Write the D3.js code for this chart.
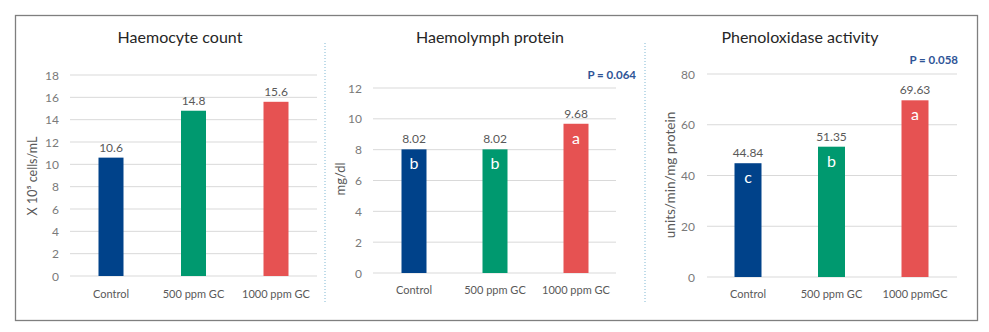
<!DOCTYPE html>
<html><head><meta charset="utf-8">
<script src="https://cdn.jsdelivr.net/npm/d3@7"></script>
<style>body{margin:0;background:#fff;} svg{display:block;font-family:Lato,"Open Sans",sans-serif;}</style>
</head><body>
<svg id="c" width="989" height="332"></svg>
<script>
const categories = ["Control","500 ppm GC","1000 ppm GC"];
const categoriesPO = ["Control","500 ppm GC","1000 ppmGC"];
const haemocyteValues = [10.6, 14.8, 15.6];
const proteinValues = [8.02, 8.02, 9.68];
const poValues = [44.84, 51.35, 69.63];
const proteinLetters = ["b","b","a"];
const poLetters = ["c","b","a"];
const haemocyteTicks = [0,2,4,6,8,10,12,14,16,18];
const proteinTicks = [0,2,4,6,8,10,12];
const poTicks = [0,20,40,60,80];
const titles = ["Haemocyte count","Haemolymph protein","Phenoloxidase activity"];
const pLabels = [null, "P = 0.064", "P = 0.058"];
const colors = ["#00428a","#00996f","#e65252"];

const svg = d3.select("#c");
svg.append("rect").attr("x",15.5).attr("y",15.5).attr("width",962).attr("height",305)
  .attr("fill","#fff").attr("stroke","#7f7f7f").attr("stroke-width",1.3);

const panels = [
  {cats:categories, vals:haemocyteValues, letters:null, ticks:haemocyteTicks, max:18,
   x0:70, x1:317, yTop:75, yBot:276, title:titles[0], tx:180, yl:"X 10⁵ cells/mL", ylx:37, yly:176, ylfs:12.5,
   fmt:d=>d, labelY:294, p:null, tickX:59, bw:25, centers:[111,193,276]},
  {cats:categories, vals:proteinValues, letters:proteinLetters, ticks:proteinTicks, max:12,
   x0:373, x1:616, yTop:88, yBot:273, title:titles[1], tx:490, yl:"mg/dl", ylx:345, yly:179, ylfs:13,
   fmt:d=>d.toFixed(2), labelY:290, p:pLabels[1], px:636, py:79, tickX:362, bw:25, centers:[414,495,576]},
  {cats:categoriesPO, vals:poValues, letters:poLetters, ticks:poTicks, max:80,
   x0:707, x1:957, yTop:74, yBot:277, title:titles[2], tx:800, yl:"units/min/mg protein", ylx:675, yly:175, ylfs:13.5,
   fmt:d=>d.toFixed(2), labelY:294, p:pLabels[2], px:958, py:64, tickX:695, bw:27, centers:[748,832,915]}
];

panels.forEach(P => {
  const g = svg.append("g");
  const y = d3.scaleLinear().domain([0,P.max]).range([P.yBot,P.yTop]);
  const step = (P.centers[2]-P.centers[0])/2;
  const x = d3.scaleBand().domain(P.cats).range([P.centers[0]-step/2, P.centers[2]+step/2]).paddingInner(0).paddingOuter(0);
  g.selectAll("line.grid").data(P.ticks).join("line")
    .attr("x1",P.x0).attr("x2",P.x1).attr("y1",d=>y(d)).attr("y2",d=>y(d))
    .attr("stroke","#d9d9d9").attr("stroke-width",1);
  g.selectAll("text.tick").data(P.ticks).join("text")
    .attr("x",P.tickX).attr("y",d=>y(d)+4.5).attr("text-anchor","end")
    .attr("font-size",12).attr("fill","#7a7a7a").text(d=>d);
  g.selectAll("rect.bar").data(P.vals).join("rect")
    .attr("x",(d,i)=>x(P.cats[i])+x.bandwidth()/2-P.bw/2).attr("width",P.bw)
    .attr("y",d=>y(d)).attr("height",d=>P.yBot-y(d)).attr("fill",(d,i)=>colors[i]);
  g.selectAll("text.val").data(P.vals).join("text")
    .attr("x",(d,i)=>x(P.cats[i])+x.bandwidth()/2).attr("y",d=>y(d)-6)
    .attr("text-anchor","middle").attr("font-size",12).attr("fill","#595959").text(d=>P.fmt(d));
  if (P.letters) {
    g.selectAll("text.let").data(P.vals).join("text")
      .attr("x",(d,i)=>x(P.cats[i])+x.bandwidth()/2).attr("y",d=>y(d)+20)
      .attr("text-anchor","middle").attr("font-size",16).attr("fill","#fff").text((d,i)=>P.letters[i]);
  }
  g.selectAll("text.cat").data(P.cats).join("text")
    .attr("x",d=>x(d)+x.bandwidth()/2).attr("y",P.labelY+4)
    .attr("text-anchor","middle").attr("font-size",11).attr("fill","#595959").text(d=>d);
  g.append("text").attr("x",P.tx).attr("y",43).attr("text-anchor","middle")
    .attr("font-size",16).attr("fill","#262626").text(P.title);
  g.append("text").attr("transform",`translate(${P.ylx},${P.yly}) rotate(-90)`)
    .attr("text-anchor","middle").attr("font-size",P.ylfs).attr("fill","#595959").text(P.yl);
  if (P.p) {
    g.append("text").attr("x",P.px).attr("y",P.py).attr("text-anchor","end")
      .attr("font-size",11.5).attr("font-weight","bold").attr("fill","#2f5597").text(P.p);
  }
});
[325,645].forEach(sx => {
  svg.append("line").attr("x1",sx).attr("x2",sx).attr("y1",43).attr("y2",303)
    .attr("stroke","#7fb8d4").attr("stroke-width",1).attr("stroke-dasharray","1,2");
});
</script>
</body></html>
